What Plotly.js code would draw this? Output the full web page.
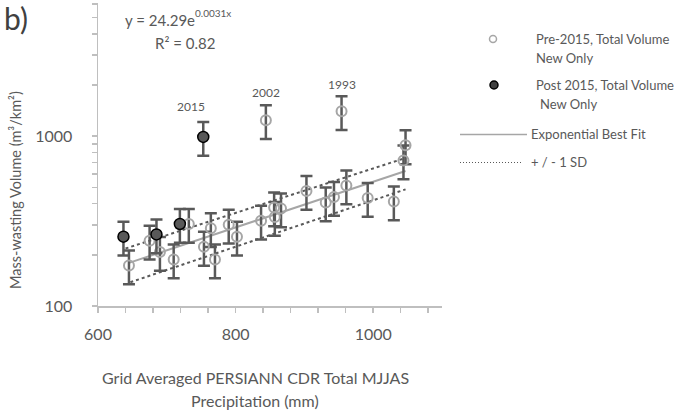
<!DOCTYPE html>
<html>
<head>
<meta charset="utf-8">
<script src="https://cdn.plot.ly/plotly-3.0.1.min.js"></script>
<style>
  html, body { margin: 0; padding: 0; background: #ffffff; }
  #chart { width: 687px; height: 415px; }
</style>
</head>
<body>
<div id="chart"></div>
<script>
// Pre-2015 seasons: precipitation (mm) vs mass-wasting volume (m³/km²)
const pre2015X = [645, 675, 690, 710, 732, 754, 764, 770, 790, 802, 844, 837, 856, 857, 866, 903, 931, 943, 954, 961, 992, 1030, 1044, 1047];
const pre2015Y = [173, 242, 208, 188, 304, 223, 287, 188, 301, 256, 1242, 318, 380, 334, 375, 475, 407, 438, 1403, 512, 432, 412, 720, 883];

// Post-2015 seasons
const post2015X = [637, 685, 719, 753];
const post2015Y = [256, 264, 304, 990];

// Error bar size (percent of value)
const errorPercent = 22.5;

// Exponential best fit y = a·e^(b·x)
const fitA = 24.29;
const fitB = 0.0031;
const fitR2 = 0.82;

// ±1 SD envelope end points
const sdUpperX = [640, 1043];
const sdUpperY = [218, 735];
const sdLowerX = [647, 1047];
const sdLowerY = [138, 486];

// Year labels on highlighted seasons
const labelYears = ['2015', '2002', '1993'];
const labelX = [post2015X[3], pre2015X[10], pre2015X[18]];
const labelY = [post2015Y[3], pre2015Y[10], pre2015Y[18]];

const TXT = '#595959';
const FONT = 'Lato, "Open Sans", sans-serif';

// plot-area box in pixels, used to place the page furniture
const L = 98, R = 442, T = 3, B = 306;
const px = x => (x - L) / (R - L);
const py = y => (B - y) / (B - T);

// fitted curve end points from the stated equation
const fitX = [Math.min(...pre2015X), Math.max(...pre2015X)];
const fitY = fitX.map(x => fitA * Math.exp(fitB * x));

const traces = [
  { x: sdUpperX, y: sdUpperY, mode: 'lines', line: { color: '#595959', width: 2, dash: 'dot' }, hoverinfo: 'skip' },
  { x: sdLowerX, y: sdLowerY, mode: 'lines', line: { color: '#595959', width: 2, dash: 'dot' }, hoverinfo: 'skip' },
  { x: fitX, y: fitY, mode: 'lines', line: { color: '#a6a6a6', width: 2 }, hoverinfo: 'skip' },
  {
    x: pre2015X, y: pre2015Y, mode: 'markers',
    marker: { symbol: 'circle-open', size: 10, color: '#a6a6a6', line: { width: 2, color: '#a6a6a6' } },
    error_y: { type: 'percent', value: errorPercent, color: '#595959', thickness: 2.5, width: 6 }
  },
  {
    x: post2015X, y: post2015Y, mode: 'markers',
    marker: { symbol: 'circle', size: 11, color: '#595959', line: { width: 1.5, color: '#000000' } },
    error_y: { type: 'percent', value: errorPercent, color: '#595959', thickness: 2.5, width: 6 }
  }
];

const labelShiftX = [-12, 0, 0];
const labelShiftY = [30, 28, 27];

const annotations = [];
labelYears.forEach((t, i) => {
  annotations.push({
    x: labelX[i], y: Math.log10(labelY[i]), xref: 'x', yref: 'y', text: t, showarrow: false,
    xshift: labelShiftX[i], yshift: labelShiftY[i], font: { family: FONT, size: 12, color: TXT }
  });
});

const paperText = (text, x, y, size, opts) => Object.assign({
  text, x: px(x), y: py(y), xref: 'paper', yref: 'paper', showarrow: false,
  xanchor: 'left', yanchor: 'middle', font: { family: FONT, size, color: TXT }
}, opts || {});

annotations.push(paperText('b)', 2, 18, 30, { font: { family: FONT, size: 30, color: '#404040' } }));
// fit equation, exponent set as a raised smaller label
annotations.push(paperText('y = ' + fitA.toFixed(2) + 'e', 123, 20, 15));
annotations.push(paperText(fitB.toFixed(4) + 'x', 193, 13, 10));
annotations.push(paperText('R² = ' + fitR2.toFixed(2), 185, 43, 15, { xanchor: 'center' }));
annotations.push(paperText('Grid Averaged PERSIANN CDR Total MJJAS', 255, 377, 16, { xanchor: 'center' }));
annotations.push(paperText('Precipitation (mm)', 255, 400, 16, { xanchor: 'center' }));
annotations.push(paperText('Mass-wasting Volume (m³/km²)', 15, 190, 14.5, { xanchor: 'center', textangle: -90 }));

// legend
annotations.push(paperText('Pre-2015, Total Volume', 534, 39, 13));
annotations.push(paperText('New Only', 534, 58, 13));
annotations.push(paperText('Post 2015, Total Volume', 534, 85, 13));
annotations.push(paperText('New Only', 538, 104, 13));
annotations.push(paperText('Exponential Best Fit', 529, 134, 13));
annotations.push(paperText('+ / - 1 SD', 529, 162, 13));

const dot = (cx, cy, r, fill, stroke, w) => ({
  type: 'circle', xref: 'paper', yref: 'paper', xsizemode: 'pixel', ysizemode: 'pixel',
  xanchor: px(cx), yanchor: py(cy), x0: -r, x1: r, y0: -r, y1: r,
  fillcolor: fill, line: { color: stroke, width: w }
});
const shapes = [
  dot(493, 39, 3.5, 'rgba(0,0,0,0)', '#a6a6a6', 1.5),
  dot(494, 85, 4, '#404040', '#000000', 1.5),
  { type: 'line', xref: 'paper', yref: 'paper', x0: px(460), x1: px(527), y0: py(134.5), y1: py(134.5), line: { color: '#a6a6a6', width: 1.5 } },
  { type: 'line', xref: 'paper', yref: 'paper', x0: px(460), x1: px(522), y0: py(162.5), y1: py(162.5), line: { color: '#595959', width: 1, dash: '1px,2px' } }
];

const tickStyle = { ticks: 'outside', ticklen: 5, tickwidth: 1.5, tickcolor: '#bfbfbf' };

const layout = {
  width: 687, height: 415,
  margin: { l: L, r: 687 - R, t: T, b: 415 - B },
  paper_bgcolor: '#ffffff', plot_bgcolor: '#ffffff',
  showlegend: false,
  font: { family: FONT, color: TXT },
  xaxis: Object.assign({
    range: [600, 1100], showgrid: false, zeroline: false,
    showline: true, linecolor: '#bfbfbf', linewidth: 1.5,
    tickmode: 'linear', tick0: 600, dtick: 200,
    minor: Object.assign({ dtick: 40, showgrid: false }, tickStyle),
    tickfont: { family: FONT, size: 16, color: TXT }, ticklabelstandoff: 8
  }, tickStyle),
  yaxis: Object.assign({
    type: 'log', range: [2, Math.log10(6080)], showgrid: false, zeroline: false,
    showline: true, linecolor: '#bfbfbf', linewidth: 1.5,
    tickmode: 'linear', tick0: 0, dtick: 1, exponentformat: 'none',
    minor: Object.assign({ dtick: 'D1', showgrid: false }, tickStyle),
    tickfont: { family: FONT, size: 16, color: TXT }, ticklabelstandoff: 16
  }, tickStyle),
  annotations, shapes
};

Plotly.newPlot('chart', traces, layout, { staticPlot: true, displayModeBar: false });
</script>
</body>
</html>
